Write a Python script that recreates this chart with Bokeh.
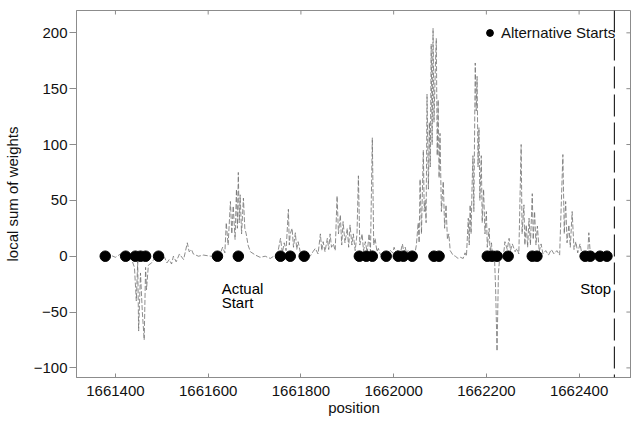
from bokeh.plotting import figure
from bokeh.models import Range1d, Span, BasicTickFormatter, FixedTicker
from bokeh.embed import file_html
from bokeh.resources import INLINE
from bokeh.core.properties import value

# ---- data ----
positions = [
    1661378, 1661389, 1661400, 1661411, 1661422, 1661428, 1661434, 1661441, 1661445, 1661448,
    1661450, 1661454, 1661458, 1661462, 1661465, 1661467, 1661471, 1661478, 1661484, 1661493,
    1661499, 1661506, 1661511, 1661516, 1661521, 1661525, 1661531, 1661538, 1661547, 1661555,
    1661559, 1661564, 1661568, 1661579, 1661590, 1661605, 1661620, 1661626, 1661631, 1661636,
    1661639, 1661643, 1661648, 1661651, 1661654, 1661658, 1661661, 1661663, 1661665, 1661667,
    1661669, 1661672, 1661676, 1661679, 1661682, 1661686, 1661691, 1661702, 1661712, 1661723,
    1661734, 1661745, 1661750, 1661756, 1661760, 1661764, 1661768, 1661773, 1661775, 1661777,
    1661781, 1661784, 1661788, 1661791, 1661794, 1661799, 1661805, 1661812, 1661820, 1661826,
    1661831, 1661837, 1661842, 1661845, 1661848, 1661852, 1661857, 1661860, 1661863, 1661866,
    1661870, 1661874, 1661878, 1661881, 1661885, 1661888, 1661891, 1661895, 1661900, 1661903,
    1661906, 1661910, 1661913, 1661917, 1661921, 1661924, 1661927, 1661932, 1661935, 1661939,
    1661943, 1661947, 1661950, 1661954, 1661957, 1661960, 1661964, 1661967, 1661971, 1661975,
    1661984, 1661993, 1661998, 1662001, 1662005, 1662010, 1662014, 1662019, 1662022, 1662025,
    1662028, 1662031, 1662036, 1662040, 1662045, 1662049, 1662053, 1662055, 1662057, 1662060,
    1662064, 1662066, 1662068, 1662070, 1662072, 1662075, 1662077, 1662079, 1662081, 1662083,
    1662085, 1662087, 1662090, 1662092, 1662094, 1662096, 1662098, 1662100, 1662103, 1662107,
    1662110, 1662113, 1662116, 1662119, 1662122, 1662128, 1662133, 1662139, 1662144, 1662150,
    1662154, 1662157, 1662161, 1662163, 1662165, 1662167, 1662169, 1662171, 1662173, 1662176,
    1662178, 1662180, 1662182, 1662184, 1662186, 1662189, 1662191, 1662194, 1662197, 1662200,
    1662202, 1662206, 1662208, 1662211, 1662214, 1662217, 1662220, 1662223, 1662226, 1662228,
    1662232, 1662236, 1662240, 1662245, 1662249, 1662252, 1662256, 1662262, 1662266, 1662270,
    1662275, 1662277, 1662281, 1662283, 1662286, 1662289, 1662292, 1662295, 1662299, 1662301,
    1662304, 1662307, 1662310, 1662314, 1662318, 1662322, 1662328, 1662334, 1662340, 1662346,
    1662352, 1662358, 1662365, 1662368, 1662371, 1662374, 1662378, 1662381, 1662385, 1662389,
    1662393, 1662397, 1662402, 1662406, 1662410, 1662415, 1662419, 1662421, 1662424, 1662430,
    1662436, 1662445, 1662460,
]
weights = [
    0, 1, -1, 2, 0, -4, -2, -10, -40, -5,
    -67, -15, -50, -75, -10, -30, -8, -6, -2, 0,
    -3, -1, -6, -3, -7, 0, -5, 2, -3, 12,
    4, 6, 2, 0, 1, 0, 0, 2, 8, 3,
    30, 10, 49, 20, 45, 15, 60, 25, 75, 30,
    55, 20, 52, 25, 20, 10, 4, 1, -1, 0,
    -2, 1, 3, 16, 3, 12, 5, 42, 10, 20,
    25, 8, 21, 6, 13, 3, 4, 1, 0, 4,
    7, 2, 20, 5, 13, 4, 16, 6, 20, 8,
    11, 5, 54, 20, 37, 10, 31, 12, 25, 8,
    28, 10, 20, 5, 20, 72, 10, 20, 5, 13,
    3, 20, 4, 106, 10, 16, 4, 7, 2, 0,
    2, 5, 3, 8, 3, 6, 2, 11, 3, 8,
    2, 5, 0, 1, 0, 10, 30, 12, 69, 20,
    95, 40, 50, 30, 145, 60, 120, 80, 190, 100,
    204, 120, 170, 195, 90, 140, 70, 110, 40, 67,
    25, 46, 15, 20, 5, 1, 0, -2, -1, -2,
    3, 0, 34, 10, 46, 20, 60, 90, 40, 173,
    130, 161, 80, 115, 50, 90, 30, 60, 20, 40,
    8, 25, 3, 12, -5, 5, -30, -85, -15, -5,
    3, -3, 13, 6, 16, 5, 11, 4, 7, 2,
    100, 20, 46, 10, 28, 8, 34, 10, 56, 15,
    40, 10, 27, 4, 11, 2, 5, 1, 6, 2,
    5, 1, 91, 20, 49, 12, 28, 8, 40, 6,
    13, 3, 11, 2, 4, 1, 6, 21, 3, 4,
    0, 1, 0,
]
alt_starts = [
    1661378, 1661422, 1661443, 1661454, 1661465, 1661493, 1661620, 1661665,
    1661756, 1661777, 1661807, 1661926, 1661941, 1661954, 1661984, 1662010,
    1662021, 1662040, 1662087, 1662098, 1662202, 1662212, 1662223, 1662247,
    1662299, 1662309, 1662413, 1662424, 1662445, 1662460,
]
alt_levels = [0] * len(alt_starts)
stop_position = 1662476
note_x = [1661629, 1661629]
note_y = [-21, -34]
note_text = ["Actual", "Start"]
stop_label_x = [1662469]
stop_label_y = [-21]
stop_label_text = ["Stop"]
x_ticks = [1661400, 1661600, 1661800, 1662000, 1662200, 1662400]
y_ticks = [-100, -50, 0, 50, 100, 150, 200]

X_MIN, X_MAX = 1661316, 1662513
Y_MIN, Y_MAX = -108.6, 220

FONT = "Liberation Sans"
GRAY = "#8c8c8c"

p = figure(width=631, height=419, output_backend="svg", toolbar_location=None,
           x_range=Range1d(X_MIN, X_MAX), y_range=Range1d(Y_MIN, Y_MAX),
           min_border_left=76, min_border_right=0, min_border_top=10, min_border_bottom=42,
           x_axis_label="position", y_axis_label="local sum of weights")
p.grid.visible = False
p.outline_line_color = GRAY
p.background_fill_color = "white"
p.border_fill_color = "white"

p.line(positions, weights, line_color="#707070", line_width=0.8, line_dash="5 2")
p.scatter(alt_starts, alt_levels, size=10.5, color="black", legend_label="Alternative Starts")

p.add_layout(Span(location=stop_position, dimension="height", line_color="black",
                  line_width=1, line_dash="22 6"))

# inside ticks on the top and right frame edges, placed at the tick values
p.segment(x0=x_ticks, y0=[Y_MAX] * len(x_ticks), x1=x_ticks, y1=[Y_MAX - 3.6] * len(x_ticks),
          line_color=GRAY, line_width=1)
p.segment(x0=[X_MAX] * len(y_ticks), y0=y_ticks, x1=[X_MAX - 11] * len(y_ticks), y1=y_ticks,
          line_color=GRAY, line_width=1)

p.text(note_x, note_y, text=note_text, text_font=value(FONT), text_font_size="15px",
       text_baseline="top", text_align="left", text_color="black")
p.text(stop_label_x, stop_label_y, text=stop_label_text, text_font=value(FONT),
       text_font_size="15px", text_baseline="top", text_align="right", text_color="black")

for ax in (p.xaxis[0], p.yaxis[0]):
    ax.axis_line_color = GRAY
    ax.major_tick_line_color = GRAY
    ax.minor_tick_line_color = None
    ax.major_label_text_font = FONT
    ax.major_label_text_font_size = "15px"
    ax.major_label_text_color = "#111111"
    ax.axis_label_text_font = FONT
    ax.axis_label_text_font_size = "15px"
    ax.axis_label_text_font_style = "normal"
    ax.axis_label_text_color = "#111111"

p.xaxis[0].ticker = FixedTicker(ticks=x_ticks)
p.xaxis[0].formatter = BasicTickFormatter(use_scientific=False)
p.xaxis[0].major_tick_in = 4
p.xaxis[0].major_tick_out = 0
p.xaxis[0].major_label_standoff = 8
p.xaxis[0].axis_label_standoff = 0

p.yaxis[0].ticker = FixedTicker(ticks=y_ticks)
p.yaxis[0].major_tick_in = 0
p.yaxis[0].major_tick_out = 7
p.yaxis[0].major_label_standoff = 2
p.yaxis[0].axis_label_standoff = 10

lg = p.legend[0]
lg.location = (405, 336)
lg.border_line_alpha = 0
lg.background_fill_alpha = 0
lg.label_text_font = FONT
lg.label_text_font_size = "15px"
lg.label_text_color = "#111111"
lg.glyph_width = 17
lg.glyph_height = 17
lg.padding = 0
lg.margin = 0
lg.label_standoff = 3

open("out.html", "w").write(file_html(p, INLINE))
